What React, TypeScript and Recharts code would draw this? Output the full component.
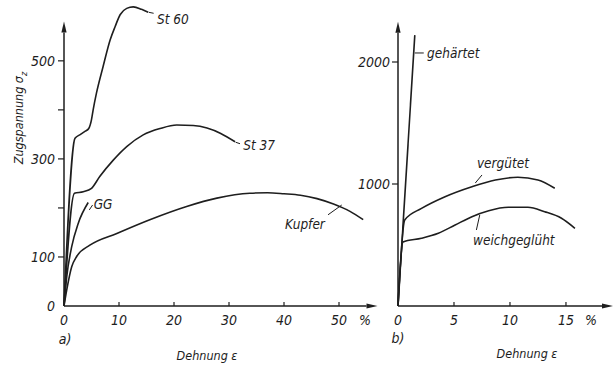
import { LineChart, Line, XAxis, YAxis, ReferenceLine, ReferenceDot } from "recharts";

// strain (%) / stress pairs
const st60 = [[0, 0], [2.0, 342], [3.0, 350], [3.8, 356], [4.5, 362], [5.0, 380], [5.3, 400], [5.9, 434], [7.1, 488], [8.4, 543], [9.3, 570], [10.2, 594], [11.4, 607], [12.6, 610], [14.1, 605], [15.3, 599]];
const st37 = [[0, 0], [1.9, 230], [3.5, 233], [5.0, 240], [6.5, 264], [9.0, 298], [11.4, 325], [14.4, 349], [17.5, 362], [20.5, 369], [23.5, 368], [26, 363], [28.5, 352], [31.1, 335]];
const gg = [[0, 0], [0.5, 60], [1.4, 121], [2.6, 169], [4.4, 211]];
const kupfer = [[0, 0], [0.5, 33], [1.4, 80], [2.3, 101], [4.7, 124], [9.6, 148], [15.6, 176], [22.3, 203], [27.8, 220], [33.8, 230], [37, 231], [40, 229], [43, 226], [46, 219], [49, 208], [52, 193], [54.4, 176]];

const gehaertet = [[0, 0], [1.5, 2220]];
const verguetet = [[0, 0], [0.6, 705], [2.1, 800], [4.2, 896], [6.6, 978], [8.7, 1033], [10.7, 1055], [12.5, 1033], [14.0, 965]];
const weich = [[0, 0], [0.45, 525], [2.1, 555], [3.6, 596], [5.1, 664], [6.6, 732], [8.1, 781], [9.85, 809], [11.6, 809], [13.1, 773], [14.6, 719], [15.8, 637]];

const leftXTicks = [0, 10, 20, 30, 40, 50];
const leftYTicks = [0, 100, 200, 300, 400, 500];
const leftYLabelled = [0, 100, 300, 500];
const rightXTicks = [0, 5, 10, 15];
const rightYTicks = [1000, 2000];

const toPts = (arr: number[][]) => arr.map(([e, s]) => ({ e, s }));

const FONT = "'DejaVu Sans Condensed', 'Liberation Sans Narrow', 'DejaVu Sans', sans-serif";
const INK = "#1e1e1e";
const txt = { fontFamily: FONT, fontStyle: "italic" as const, fill: INK };

function Arrow(props: any) {
  const { x1, y1, x2, y2 } = props;
  const a = Math.atan2(y2 - y1, x2 - x1);
  const L = 11, W = 2.6;
  const bx = x2 - L * Math.cos(a), by = y2 - L * Math.sin(a);
  const px = -Math.sin(a) * W, py = Math.cos(a) * W;
  return (
    <g>
      <line x1={x1} y1={y1} x2={bx} y2={by} stroke={INK} strokeWidth={1.5} />
      <polygon points={`${x2},${y2} ${bx + px},${by + py} ${bx - px},${by - py}`} fill={INK} />
    </g>
  );
}

const xTick = (pctAt: number, pctDx: number) => (p: any) => {
  const { x, y, payload } = p;
  return (
    <g>
      {payload.value !== 0 && <line x1={x} y1={y} x2={x} y2={y - 4} stroke={INK} strokeWidth={1.2} />}
      <text x={x} y={y + 19} textAnchor="middle" fontSize={14} {...txt}>{payload.value}</text>
      {payload.value === pctAt && <text x={x + pctDx} y={y + 19} textAnchor="middle" fontSize={14} {...txt}>%</text>}
    </g>
  );
};

const yTick = (labelled: number[], gap: number) => (p: any) => {
  const { x, y, payload } = p;
  return (
    <g>
      {payload.value !== 0 && <line x1={x - 6} y1={y} x2={x} y2={y} stroke={INK} strokeWidth={1.2} />}
      {labelled.includes(payload.value) && (
        <text x={x - gap} y={y} dy="0.36em" textAnchor="end" fontSize={14} {...txt}>{payload.value}</text>
      )}
    </g>
  );
};

const tag = (label: string) => (p: any) => (
  <text x={p.cx} y={p.cy} dy="0.36em" fontSize={13.5} {...txt}>{label}</text>
);

const curve = (key: string, pts: number[][]) => (
  <Line key={key} data={toPts(pts)} dataKey="s" type="monotone" stroke={INK} strokeWidth={1.6} dot={false} isAnimationActive={false} />
);

const lead = (a: [number, number], b: [number, number]) => (
  <ReferenceLine segment={[{ x: a[0], y: a[1] }, { x: b[0], y: b[1] }]} stroke={INK} strokeWidth={1} ifOverflow="visible" />
);

export default function App() {
  return (
    <div style={{ position: "absolute", left: 0, top: 0, width: 616, height: 367, background: "#fff" }}>
      <div style={{ position: "absolute", left: 0, top: 0 }}>
        <LineChart width={390} height={367} margin={{ top: 2, right: 12.5, left: 4, bottom: 31 }}>
          <XAxis dataKey="e" type="number" domain={[0, 57]} ticks={leftXTicks} interval={0} axisLine={false} tickLine={false} tickSize={0} tickMargin={0} height={30} tick={xTick(50, 26)} />
          <YAxis type="number" domain={[0, 620]} ticks={leftYTicks} interval={0} axisLine={false} tickLine={false} tickSize={0} tickMargin={0} width={60} tick={yTick(leftYLabelled, 9)} />
          <ReferenceLine segment={[{ x: 0, y: 0 }, { x: 0, y: 580 }]} ifOverflow="visible" shape={Arrow} />
          <ReferenceLine segment={[{ x: 0, y: 0 }, { x: 57, y: 0 }]} ifOverflow="visible" shape={Arrow} />
          {curve("st60", st60)}
          {curve("st37", st37)}
          {curve("gg", gg)}
          {curve("kupfer", kupfer)}
          {lead([15.4, 599], [16.3, 597])}
          {lead([31.2, 334], [32.0, 331])}
          {lead([4.6, 196], [5.2, 206])}
          {lead([48, 186], [50.5, 206])}
          <ReferenceDot x={16.9} y={586} r={0} ifOverflow="visible" shape={tag("St 60")} />
          <ReferenceDot x={32.6} y={329} r={0} ifOverflow="visible" shape={tag("St 37")} />
          <ReferenceDot x={5.4} y={208} r={0} ifOverflow="visible" shape={tag("GG")} />
          <ReferenceDot x={40.2} y={167} r={0} ifOverflow="visible" shape={tag("Kupfer")} />
        </LineChart>
      </div>
      <div style={{ position: "absolute", left: 330, top: 0 }}>
        <LineChart width={286} height={367} margin={{ top: 1, right: 3, left: 8, bottom: 31 }}>
          <XAxis dataKey="e" type="number" domain={[0, 19.2]} ticks={rightXTicks} interval={0} axisLine={false} tickLine={false} tickSize={0} tickMargin={0} height={30} tick={xTick(15, 25)} />
          <YAxis type="number" domain={[0, 2500]} ticks={rightYTicks} interval={0} axisLine={false} tickLine={false} tickSize={0} tickMargin={0} width={60} tick={yTick(rightYTicks, 8)} />
          <ReferenceLine segment={[{ x: 0, y: 0 }, { x: 0, y: 2330 }]} ifOverflow="visible" shape={Arrow} />
          <ReferenceLine segment={[{ x: 0, y: 0 }, { x: 19.2, y: 0 }]} ifOverflow="visible" shape={Arrow} />
          {curve("gehaertet", gehaertet)}
          {curve("verguetet", verguetet)}
          {curve("weich", weich)}
          {lead([1.5, 2074], [2.3, 2074])}
          {lead([6.9, 1008], [7.5, 1074])}
          {lead([7.3, 746], [7.0, 623])}
          <ReferenceDot x={2.6} y={2074} r={0} ifOverflow="visible" shape={tag("gehärtet")} />
          <ReferenceDot x={7.05} y={1172} r={0} ifOverflow="visible" shape={tag("vergütet")} />
          <ReferenceDot x={6.7} y={541} r={0} ifOverflow="visible" shape={tag("weichgeglüht")} />
        </LineChart>
      </div>
      <svg width={616} height={367} style={{ position: "absolute", left: 0, top: 0, pointerEvents: "none" }}>
        <text x={23} y={118} transform="rotate(-90, 23, 118)" textAnchor="middle" fontSize={12.5} {...txt}>
          Zugspannung σ<tspan dy={4} fontSize={9}>z</tspan>
        </text>
        <text x={65} y={339} dy="0.36em" textAnchor="middle" fontSize={14} {...txt}>a)</text>
        <text x={207} y={355} dy="0.36em" textAnchor="middle" fontSize={12.5} {...txt}>Dehnung ε</text>
        <text x={398} y={338} dy="0.36em" textAnchor="middle" fontSize={14} {...txt}>b)</text>
        <text x={527} y={353} dy="0.36em" textAnchor="middle" fontSize={12.5} {...txt}>Dehnung ε</text>
      </svg>
    </div>
  );
}
